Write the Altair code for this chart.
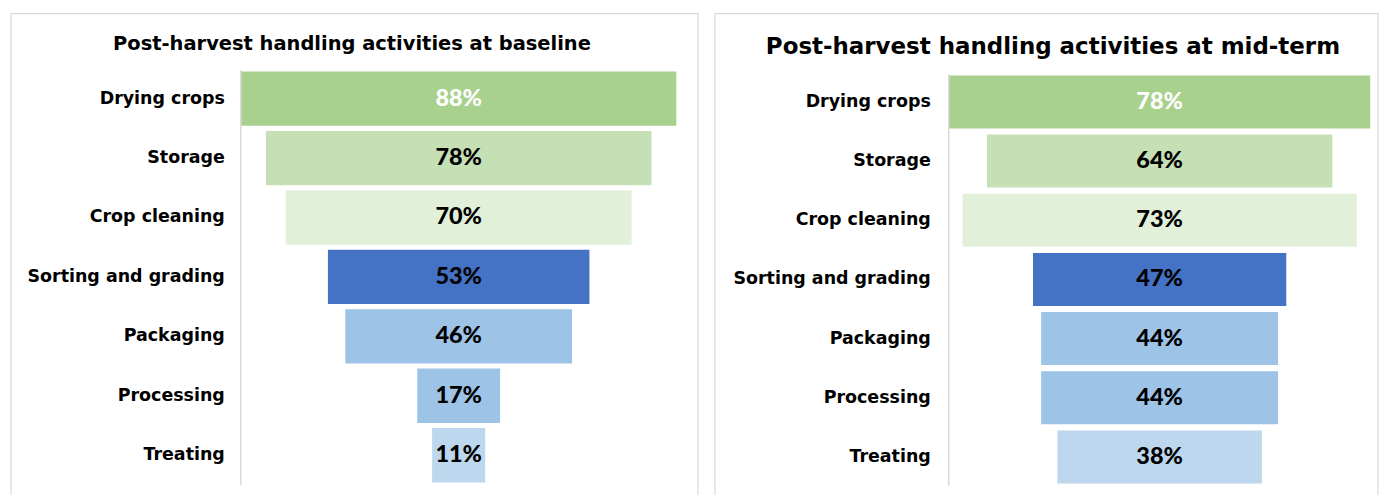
import altair as alt
import pandas as pd

activities = ["Drying crops", "Storage", "Crop cleaning", "Sorting and grading",
              "Packaging", "Processing", "Treating"]
baseline = [88, 78, 70, 53, 46, 17, 11]
midterm = [78, 64, 73, 47, 44, 44, 38]
bar_colors = ["#A9D18E", "#C5E0B4", "#E2F0D9", "#4472C4", "#9DC3E6", "#9DC3E6", "#BDD7EE"]
label_colors = ["#FFFFFF", "#000000", "#000000", "#000000", "#000000", "#000000", "#000000"]

LABEL_FONT = "DejaVu Sans"
NUM_FONT = "Lato"


def panel(values, title, half, w, h, yrange, pad_inner, ext, title_pos, title_size, label_pad):
    df = pd.DataFrame({"activity": activities, "value": values,
                       "color": bar_colors, "tcolor": label_colors})
    base = alt.Chart(df).transform_calculate(
        lo="-datum.value/2", hi="datum.value/2", zero="0", label="datum.value + '%'"
    )
    y = alt.Y("activity:N", sort=activities, title=None,
              scale=alt.Scale(paddingInner=pad_inner, paddingOuter=0.02, range=yrange),
              axis=alt.Axis(ticks=False, tickSize=0, labelPadding=label_pad, zindex=2,
                            labelFont=LABEL_FONT, labelFontSize=17.5, labelFontWeight="bold",
                            labelColor="#000000", domainColor="#D9D9D9", domainWidth=1.5,
                            labelLimit=400))
    xs = alt.Scale(domain=[-half, half])
    bars = base.mark_bar(stroke="white", strokeWidth=1.5).encode(
        x=alt.X("lo:Q", scale=xs, axis=None), x2="hi:Q", y=y,
        color=alt.Color("color:N", scale=None))
    text = base.mark_text(font=NUM_FONT, fontSize=23.5, fontWeight=900, baseline="middle").encode(
        x=alt.X("zero:Q", scale=xs, axis=None), y=alt.Y("activity:N", sort=activities),
        text="label:N", color=alt.Color("tcolor:N", scale=None))
    one = pd.DataFrame({"t": [title]})
    frame = alt.Chart(one).mark_rect(fill="white", stroke="#D9D9D9", strokeWidth=1.2).encode(
        x=alt.value(-ext[0]), x2=alt.value(w + ext[1]),
        y=alt.value(-ext[2]), y2=alt.value(h + ext[3]))
    ttl = alt.Chart(one).mark_text(font=LABEL_FONT, fontSize=title_size, fontWeight="bold",
                                   baseline="middle", align="center", color="#000000").encode(
        x=alt.value(title_pos[0]), y=alt.value(title_pos[1]), text="t:N")
    return alt.layer(frame, bars, text, ttl).properties(width=w, height=h)


left = panel(baseline, "Post-harvest handling activities at baseline", 44, 438, 416,
             [0, 416], 0.06, (230, 21, 56, 13), (112, -26), 19.5, 16)
right = panel(midterm, "Post-harvest handling  activities at mid-term", 39, 424, 417,
              [4, 417], 0.08, (234, 7, 56, 12), (105, -23), 23, 18)

chart = alt.hconcat(left, right, spacing=15).properties(
    padding={"left": 10, "top": 12, "right": 0, "bottom": 0}
).configure_view(stroke=None)

chart.save("out.html", embed_options={"renderer": "svg", "actions": False})
